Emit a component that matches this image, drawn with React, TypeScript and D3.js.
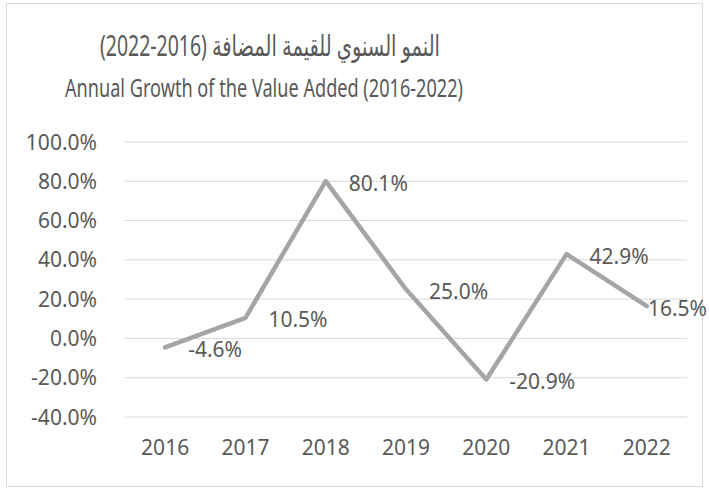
import React from "react"
import * as d3 from "d3"

const years = ["2016", "2017", "2018", "2019", "2020", "2021", "2022"]
const growth = [-4.6, 10.5, 80.1, 25.0, -20.9, 42.9, 16.5]
const yTicks = [-40, -20, 0, 20, 40, 60, 80, 100]
// years written in this order so the RTL run shows them like the source
const titleAr = "النمو السنوي للقيمة المضافة (2016-2022)"
const titleEn = "Annual Growth of the Value Added (2016-2022)"

const W = 709
const H = 491
const margin = { top: 142, right: 22, bottom: 74, left: 125 }

const font = "'Noto Sans', 'DejaVu Sans', sans-serif"
const textColor = "#595959"

const App: React.FC = () => {
  const x = d3.scaleBand().domain(years).range([margin.left, W - margin.right])
  const y = d3.scaleLinear().domain([-40, 100]).range([H - margin.bottom, margin.top])
  const cx = (yr: string) => (x(yr) as number) + x.bandwidth() / 2

  const line = d3.line<number>()
    .x((_, i) => cx(years[i]))
    .y(d => y(d))

  return (
    <svg width={W} height={H} style={{ position: "absolute", left: 0, top: 0, fontFamily: font }}>
      <rect x={6.5} y={3.5} width={696} height={483} fill="#fff" stroke="#d9d9d9" />
      <text x={270} y={56} textAnchor="middle" fontSize={29} fill={textColor} direction="rtl"
        textLength={340} lengthAdjust="spacingAndGlyphs">{titleAr}</text>
      <text x={264} y={97} textAnchor="middle" fontSize={25} fill={textColor}
        textLength={398} lengthAdjust="spacingAndGlyphs">{titleEn}</text>
      {yTicks.map(t => (
        <g key={t}>
          <line x1={margin.left} x2={W - margin.right} y1={y(t)} y2={y(t)} stroke="#d9d9d9" strokeWidth={1} />
          <text x={97} y={y(t)} dy="0.36em" textAnchor="end" fontSize={21} fill={textColor}>{t.toFixed(1)}%</text>
        </g>
      ))}
      {years.map(yr => (
        <text key={yr} x={cx(yr)} y={455} textAnchor="middle" fontSize={21} fill={textColor}>{yr}</text>
      ))}
      <path d={line(growth) || ""} fill="none" stroke="#a5a5a5" strokeWidth={4.5} strokeLinejoin="round" strokeLinecap="round" />
      {growth.map((v, i) => {
        const lx = cx(years[i]) + 23
        const fits = lx + 60 < W - 2
        return (
          <text key={i} x={fits ? lx : W - 2} y={y(v) + 2} dy="0.36em" textAnchor={fits ? "start" : "end"}
            fontSize={21} fill={textColor}>{v.toFixed(1)}%</text>
        )
      })}
    </svg>
  )
}

export default App
